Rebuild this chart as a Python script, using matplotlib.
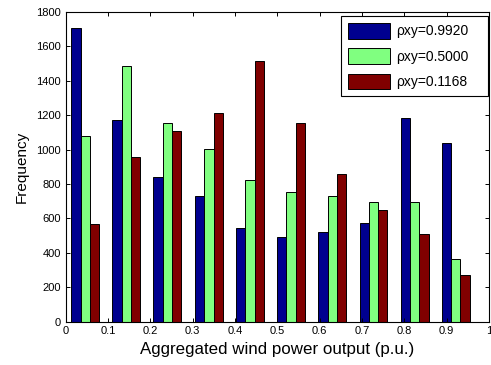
import matplotlib.pyplot as plt
import numpy as np

plt.rcParams['font.family'] = ['Liberation Sans', 'DejaVu Sans']

# Histogram bin centres (p.u.) and counts for each correlation level
bin_centers = [0.046, 0.143, 0.240, 0.338, 0.435, 0.532, 0.630, 0.727, 0.824, 0.921]
freq_high = [1710, 1175, 840, 730, 546, 489, 521, 572, 1182, 1037]
freq_mid = [1077, 1487, 1154, 1005, 823, 756, 731, 698, 694, 363]
freq_low = [566, 958, 1108, 1210, 1516, 1156, 861, 649, 509, 271]
labels = ['\u03c1xy=0.9920', '\u03c1xy=0.5000', '\u03c1xy=0.1168']
colors = ['#00008f', '#80ff80', '#800000']

fig = plt.figure(figsize=(4.91, 3.65), dpi=100)
ax = fig.add_axes([0.134, 0.119, 0.862, 0.848])

x = np.array(bin_centers)
w = 0.022
for i, (vals, lab, col) in enumerate(zip([freq_high, freq_mid, freq_low], labels, colors)):
    ax.bar(x + (i - 1) * w, vals, width=w, color=col, edgecolor='black',
           linewidth=0.7, label=lab)

ax.set_xlim(0, 1)
ax.set_ylim(0, 1800)
ax.set_xticks(np.arange(0, 1.01, 0.1))
ax.set_xticklabels(['0', '0.1', '0.2', '0.3', '0.4', '0.5', '0.6', '0.7', '0.8', '0.9', '1'])
ax.set_yticks(np.arange(0, 1801, 200))
ax.tick_params(direction='in', top=True, right=True, labelsize=8, length=3, width=0.7)
for s in ax.spines.values():
    s.set_linewidth(0.8)

ax.set_xlabel('Aggregated wind power output (p.u.)', fontsize=12.2, labelpad=4)
ax.set_ylabel('Frequency', fontsize=11, labelpad=5)

# wide legend box in the upper right corner
leg = ax.legend(loc='upper right', bbox_to_anchor=(0.650, 0.732, 0.348, 0.255),
                mode='expand', borderaxespad=0,
                fontsize=10, handlelength=3.0, handleheight=1.35, labelspacing=0.7,
                borderpad=0.5, handletextpad=0.5,
                fancybox=False, edgecolor='black', framealpha=1)
leg.get_frame().set_linewidth(0.8)

fig.savefig('out.png', dpi=100)
